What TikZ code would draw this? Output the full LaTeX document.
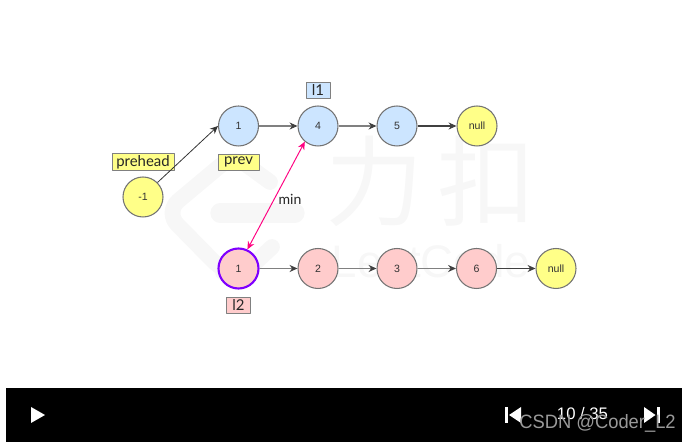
\documentclass[tikz,border=0pt]{standalone}
\usepackage{fontspec}
\setmainfont{Liberation Sans}
\newfontfamily\handfont{Lato}
\newfontfamily\cjkfont{Noto Sans CJK SC}
\usepackage{xcolor}
\usetikzlibrary{arrows.meta,positioning}
\definecolor{listblue}{HTML}{CCE5FF}
\definecolor{listpink}{HTML}{FFCCCC}
\definecolor{listyellow}{HTML}{FFFF88}
\definecolor{minpink}{HTML}{FF0080}
\definecolor{curpurple}{HTML}{7F00FF}
\definecolor{markwater}{HTML}{F7F7F7}
\tikzset{
  listnode/.style={circle,draw=black!55,line width=0.6pt,minimum size=0.8cm,inner sep=0pt,font=\fontsize{6}{7}\selectfont,text=black!80},
  tagbox/.style={draw=black!50,line width=0.4pt,inner sep=0pt,font=\handfont\fontsize{8.5}{9}\selectfont,text=black!85},
  nextarrow/.style={draw=black!50,line width=0.6pt,-{Stealth[length=4.5pt,width=4pt,black!75]}},
}
\begin{document}
\begin{tikzpicture}[line join=round]
  \useasboundingbox (0,0) rectangle (13.8,8.84);
  % ---------- watermark ----------
  \draw[markwater,line width=9pt,line cap=round,rounded corners=0.35cm]
    (5.40,5.20) -- (4.66,5.74) -- (3.30,4.60) -- (4.50,3.38) -- (4.80,3.30) -- (5.44,3.90);
  \draw[markwater,line width=11pt,line cap=round] (4.40,4.58) -- (5.90,4.58);
  \node[markwater,font=\cjkfont\fontsize{56}{56}\selectfont,inner sep=0pt] (wmarka) at (7.50,5.22) {力};
  \node[markwater,font=\cjkfont\fontsize{56}{56}\selectfont,inner sep=0pt] (wmarkb) at (9.74,5.22) {扣};
  \node[markwater,font=\fontsize{26}{26}\selectfont,inner sep=0pt] (wcode) at (8.62,3.62) {LeetCode};
  % ---------- first list ----------
  \node[listnode,fill=listyellow] (head) at (2.86,4.90) {-1};
  \node[listnode,fill=listblue] (ba) at (4.77,6.32) {1};
  \node[listnode,fill=listblue] (bb) at (6.36,6.32) {4};
  \node[listnode,fill=listblue] (bc) at (7.94,6.32) {5};
  \node[listnode,fill=listyellow] (bn) at (9.54,6.32) {null};
  % ---------- second list ----------
  \node[listnode,fill=listpink,draw=curpurple,line width=1.2pt] (pa) at (4.77,3.47) {1};
  \node[listnode,fill=listpink] (pb) at (6.36,3.47) {2};
  \node[listnode,fill=listpink] (pc) at (7.94,3.47) {3};
  \node[listnode,fill=listpink] (pd) at (9.53,3.47) {6};
  \node[listnode,fill=listyellow] (pn) at (11.12,3.47) {null};
  % ---------- labels ----------
  \node[tagbox,fill=listyellow,minimum width=1.24cm,minimum height=0.33cm] (prehead) at (2.86,5.60) {prehead};
  \node[tagbox,fill=listyellow,minimum width=0.82cm,minimum height=0.32cm] (prev) at (4.77,5.60) {prev};
  \node[tagbox,fill=listblue,minimum width=0.48cm,minimum height=0.32cm] (lone) at (6.36,7.04) {l1};
  \node[tagbox,fill=listpink,minimum width=0.47cm,minimum height=0.32cm] (ltwo) at (4.77,2.74) {l2};
  % ---------- connectors ----------
  \draw[draw=black!80,line width=0.45pt,-{Stealth[length=4.5pt,width=4pt]}] (head.45) -- (ba.west);
  \draw[nextarrow] (ba) -- (bb);
  \draw[nextarrow] (bb) -- (bc);
  \draw[nextarrow,draw=black!75] (bc) -- (bn);
  \draw[nextarrow] (pa) -- (pb);
  \draw[nextarrow] (pb) -- (pc);
  \draw[nextarrow] (pc) -- (pd);
  \draw[nextarrow,draw=black!75] (pd) -- (pn);
  \draw[minpink,line width=0.55pt,{Stealth[length=4.5pt,width=4pt]}-{Stealth[length=4.5pt,width=4pt]}] (bb.230) -- (pa.65);
  \node[font=\handfont\fontsize{8}{9}\selectfont,inner sep=0pt,text=black!85] (minlabel) at (5.80,4.86) {min};
  % ---------- player bar ----------
  \fill[black] (0.12,0) rectangle (13.64,1.08);
  \fill[white] (0.62,0.70) -- (0.90,0.54) -- (0.62,0.38) -- cycle;
  \fill[white] (10.10,0.70) rectangle (10.16,0.38);
  \fill[white] (10.42,0.70) -- (10.18,0.54) -- (10.42,0.38) -- cycle;
  \fill[white] (12.88,0.70) -- (13.11,0.54) -- (12.88,0.38) -- cycle;
  \fill[white] (13.14,0.70) rectangle (13.20,0.38);
  \node[white,font=\fontsize{9.5}{11}\selectfont,inner sep=0pt] (pagecount) at (11.65,0.56) {10 / 35};
  \node[black!40,font=\fontsize{11}{12}\selectfont,inner sep=0pt,xscale=0.95] (csdn) at (11.95,0.38) {CSDN @Coder\_L2};
\end{tikzpicture}
\end{document}
